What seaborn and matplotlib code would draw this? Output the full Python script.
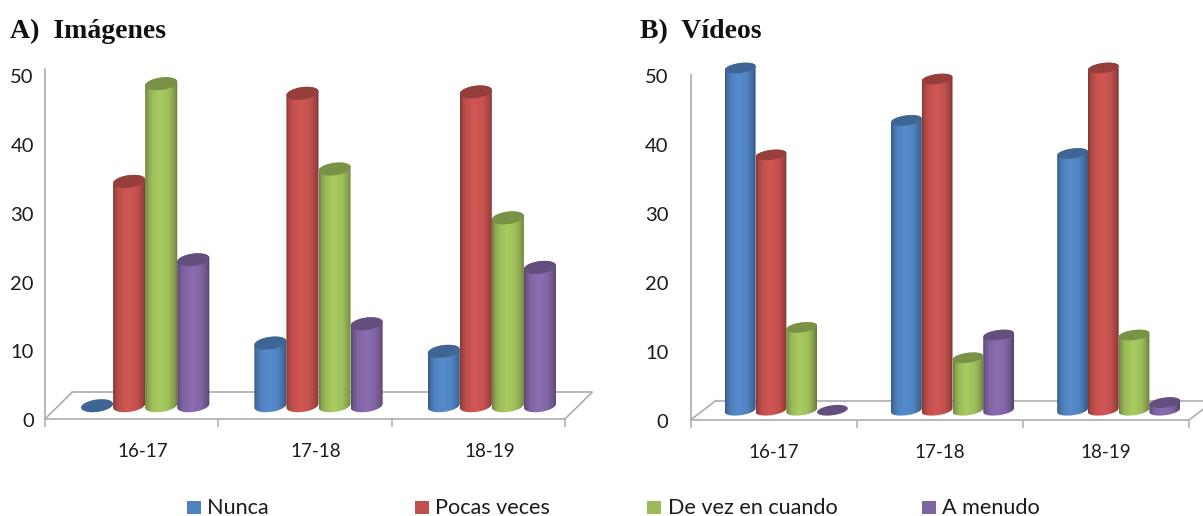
import numpy as np
import pandas as pd
import matplotlib
matplotlib.use("Agg")
import matplotlib.pyplot as plt
from matplotlib.patches import Polygon, Rectangle
from matplotlib.transforms import ScaledTranslation
import seaborn as sns

# Survey results by school year
cursos = ["16-17", "17-18", "18-19"]
frecuencias = ["Nunca", "Pocas veces", "De vez en cuando", "A menudo"]

imagenes_nunca = [0, 9.1, 7.9]
imagenes_pocas = [32.6, 45.4, 45.6]
imagenes_devez = [46.8, 34.4, 27.3]
imagenes_menudo = [21.2, 11.9, 20.1]

videos_nunca = [49.6, 42.0, 37.2]
videos_pocas = [37.0, 48.0, 49.6]
videos_devez = [12.0, 7.6, 10.9]
videos_menudo = [0, 10.9, 1.1]

colores = ["#4F81BD", "#C0504D", "#9BBB59", "#8064A2"]
gris = "#ADADAD"

W, H = 1203, 516
sns.set_style("white")
plt.rcParams["font.family"] = ["Lato", "DejaVu Sans"]
fig = plt.figure(figsize=(W / 100, H / 100), dpi=100)


def tabla(series):
    return pd.DataFrame(
        [
            {"curso": c, "frecuencia": f, "valor": v}
            for f, vals in zip(frecuencias, series)
            for c, v in zip(cursos, vals)
        ]
    )


def sombreado(color):
    """One-row image with the horizontal shading of a cylinder."""
    rgb = np.array(matplotlib.colors.to_rgb(color))
    pos = np.linspace(0, 1, 96)
    f = np.interp(pos, [0, 0.07, 0.2, 0.45, 0.72, 0.9, 1],
                  [0.68, 0.86, 1.0, 1.09, 1.02, 0.84, 0.64])
    return np.clip(rgb[None, None, :] * f[None, :, None], 0, 1)


def cilindro(ax, bar, color, dx, base, alto_tapa, giro):
    x0, w, h = bar.get_x() + dx, bar.get_width(), bar.get_height()
    cx = x0 + w / 2
    top = base + h

    def arco(cy, t):
        return np.column_stack(
            [cx + w / 2 * np.cos(t), cy + alto_tapa / 2 * np.sin(t) + giro * np.cos(t)]
        )

    tapa = Polygon(arco(top, np.linspace(0, 2 * np.pi, 80)), closed=True,
                   fc=np.array(matplotlib.colors.to_rgb(color)) * 0.78, ec="none",
                   zorder=4, clip_on=False)
    if h > 0:
        cuerpo = np.vstack(
            [arco(top, np.linspace(np.pi, 0, 40)), arco(base, np.linspace(0, -np.pi, 40))]
        )
        contorno = Polygon(cuerpo, closed=True, fc="none", ec="none",
                           transform=ax.transData)
        ax.add_patch(contorno)
        ymin = base - alto_tapa
        ymax = top + alto_tapa
        img = ax.imshow(sombreado(color), extent=(x0, x0 + w, ymin, ymax),
                        aspect="auto", interpolation="bilinear", zorder=3)
        img.set_clip_path(contorno)
        img.set_clip_box(fig.bbox)
    ax.add_patch(tapa)


def panel(caja, series, titulo, titulo_x, fondo_x, fondo_y, alto_tapa_px,
          ymax, pad_y, desvio_etiqueta):
    izq, der, arriba, abajo = caja
    ax = fig.add_axes([izq / W, 1 - abajo / H, (der - izq) / W, (abajo - arriba) / H])
    sns.barplot(data=tabla(series), x="curso", y="valor", hue="frecuencia",
                hue_order=frecuencias, palette=colores, width=0.74, gap=0,
                errorbar=None, legend=False, ax=ax)

    px_cat = (der - izq) / 3
    px_val = (abajo - arriba) / ymax
    dx = (fondo_x / 2) / px_cat
    base = (fondo_y / 2) / px_val
    ux, uy = fondo_x / px_cat, fondo_y / px_val

    orden = np.repeat(colores, len(cursos))
    for bar, color in zip(list(ax.patches), orden):
        bar.set_visible(False)
        cilindro(ax, bar, color, dx, base, alto_tapa_px / px_val, 1.9 / px_val)

    # Floor of the 3D box
    xa, xb = -0.5, 2.5
    for xs, ys in [((xa, xa + ux), (0, uy)),
                   ((xa + ux, xb + ux), (uy, uy)),
                   ((xb, xb + ux), (0, uy))]:
        ax.plot(xs, ys, color=gris, lw=1.2, zorder=1, clip_on=False, solid_capstyle="round")

    ax.set_xlim(xa, xb)
    ax.set_ylim(0, ymax)
    ax.set_xlabel("")
    ax.set_ylabel("")
    ax.set_yticks(range(0, 51, 10))
    ax.set_xticks(range(3))
    ax.set_xticklabels(cursos)
    ax.set_xticks([-0.5, 0.5, 1.5, 2.5], minor=True)
    ax.tick_params(axis="y", length=0, pad=pad_y, labelsize=14.5, labelcolor="#1c1c1c")
    ax.tick_params(axis="x", which="major", length=0, pad=17.5, labelsize=13.5,
                   labelcolor="#1c1c1c")
    ax.tick_params(axis="x", which="minor", bottom=True, length=5.5, width=1.1, color=gris)
    for lado in ("top", "right"):
        ax.spines[lado].set_visible(False)
    for lado in ("left", "bottom"):
        ax.spines[lado].set_color(gris)
        ax.spines[lado].set_linewidth(1.2)
    ax.patch.set_alpha(0)

    # Nudge the tick labels by a few pixels
    for etiqueta in ax.get_xticklabels():
        etiqueta.set_transform(etiqueta.get_transform()
                               + ScaledTranslation(desvio_etiqueta / 100, 0, fig.dpi_scale_trans))
    for etiqueta in ax.get_yticklabels():
        etiqueta.set_transform(etiqueta.get_transform()
                               + ScaledTranslation(0, -1.2 / 100, fig.dpi_scale_trans))

    fig.text(titulo_x / W, 1 - 38 / H, titulo, family="Liberation Serif",
             weight="bold", fontsize=20, color="#111111", va="baseline")
    return ax


panel((45, 565, 69, 419), [imagenes_nunca, imagenes_pocas, imagenes_devez, imagenes_menudo],
      "A)  Imágenes", 10, 27, 26.6, 12.5, 350 / 6.88, 8, 11)
panel((690.5, 1189, 75, 420), [videos_nunca, videos_pocas, videos_devez, videos_menudo],
      "B)  Vídeos", 640, 25.5, 19.5, 10, 50, 16, 0)

# Legend row shared by both panels
posiciones = [(187, 207), (415, 435), (647, 668), (922, 942)]
for (xc, xt), nombre, color in zip(posiciones, frecuencias, colores):
    fig.patches.append(Rectangle((xc / W, 1 - 513.5 / H), 14 / W, 13 / H,
                                 transform=fig.transFigure, fc=color, ec="none"))
    fig.text(xt / W, 1 - 514 / H, nombre, fontsize=15.6, color="#1c1c1c", va="baseline")

fig.savefig("out.png", dpi=100)
